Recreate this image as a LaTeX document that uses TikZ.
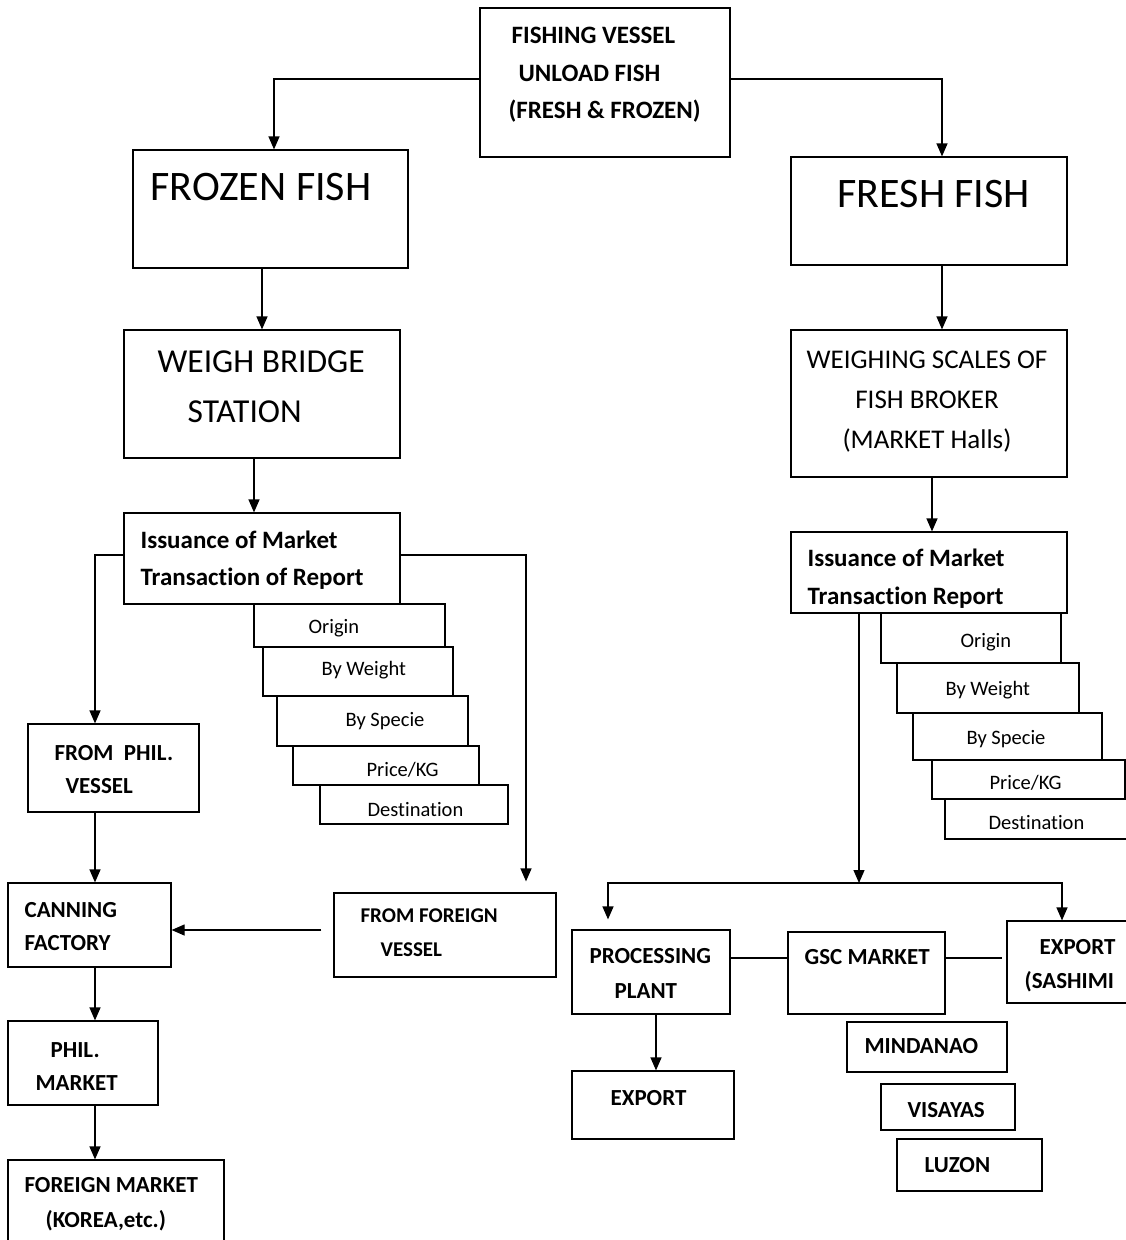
\documentclass[tikz,border=0pt]{standalone}
\usepackage{fontspec}
\setmainfont{Carlito}[Ligatures=NoCommon]
\usetikzlibrary{arrows.meta, positioning, fit}
\tikzset{
  every picture/.style={line width=1.2pt},
  box/.style={draw, fill=white, inner sep=0pt, line width=1.2pt},
  arr/.style={-{Triangle[length=13pt, width=11pt]}, line width=1.2pt},
  txt/.style={inner sep=0pt, anchor=north west, align=left},
  bigtxt/.style={txt, font=\fontsize{42}{50}\selectfont},
  midtxt/.style={txt, font=\fontsize{33.5}{50}\selectfont},
  scaletxt/.style={inner sep=0pt, anchor=north, align=center, font=\fontsize{27}{40}\selectfont},
  boldtxt/.style={txt, font=\fontsize{25}{#1}\selectfont\bfseries},
  boldtxt/.default=34,
  lowtxt/.style={txt, font=\fontsize{23}{#1}\selectfont\bfseries},
  lowtxt/.default=34,
  itemtxt/.style={inner sep=0pt, anchor=base west, font=\fontsize{20.5}{24}\selectfont},
}
\begin{document}
\begin{tikzpicture}[x=1pt, y=-1pt]
  \useasboundingbox (0,0) rectangle (1126,1240);

  % ---- top
  \node[box, fit={(480,8) (730,157)}] (vessel) {};

  % ---- frozen branch
  \node[box, fit={(133,150) (408,268)}] (frozen) {};
  \node[box, fit={(124,330) (400,458)}] (bridge) {};
  \node[box, fit={(124,513) (400,604)}] (reportL) {};
  \node[box, fit={(254,604) (445,647)}] (originL) {};
  \node[box, fit={(263,647) (453,696)}] (weightL) {};
  \node[box, fit={(277,696) (468,746)}] (specieL) {};
  \node[box, fit={(293,746) (479,785)}] (priceL) {};
  \node[box, fit={(320,785) (508,824)}] (destL) {};
  \node[box, fit={(28,724) (199,812)}] (philvessel) {};
  \node[box, fit={(8,883) (171,967)}] (canning) {};
  \node[box, fit={(334,893) (556,977)}] (forvessel) {};
  \node[box, fit={(8,1021) (158,1105)}] (philmarket) {};
  \node[box, fit={(8,1160) (224,1250)}] (formarket) {};

  % ---- fresh branch
  \node[box, fit={(791,157) (1067,265)}] (fresh) {};
  \node[box, fit={(791,330) (1067,477)}] (scales) {};
  \node[box, fit={(791,532) (1067,613)}] (reportR) {};
  \node[box, fit={(881,613) (1061,663)}] (originR) {};
  \node[box, fit={(897,663) (1079,713)}] (weightR) {};
  \node[box, fit={(913,713) (1102,760)}] (specieR) {};
  \node[box, fit={(932,760) (1125,799)}] (priceR) {};
  \node[box, fit={(945,799) (1135,839)}] (destR) {};
  \node[box, fit={(572,930) (730,1014)}] (plant) {};
  \node[box, fit={(788,932) (945,1014)}] (gsc) {};
  \node[box, fit={(1007,921) (1135,1003)}] (sashimi) {};
  \node[box, fit={(572,1071) (734,1139)}] (export) {};
  \node[box, fit={(847,1022) (1007,1072)}] (mindanao) {};
  \node[box, fit={(881,1084) (1015,1130)}] (visayas) {};
  \node[box, fit={(897,1139) (1042,1191)}] (luzon) {};

  % ---- texts
  \node[boldtxt=37.5] (vesselT) at (508,27) {\hspace*{3pt}FISHING VESSEL\\\hspace*{10pt}UNLOAD FISH\\(FRESH \& FROZEN)};
  \node[bigtxt] (frozenT) at (150,173) {FROZEN FISH};
  \node[bigtxt] (freshT) at (837,180) {FRESH FISH};
  \node[midtxt] (bridgeT) at (157,350) {WEIGH BRIDGE\\\hspace*{30pt}STATION};
  \node[scaletxt] (scalesT) at (927,350) {WEIGHING SCALES OF\\FISH BROKER\\(MARKET Halls)};
  \node[boldtxt=37] (reportLT) at (140,530) {Issuance of Market\\Transaction of Report};
  \node[boldtxt=38] (reportRT) at (807,548) {Issuance of Market\\Transaction Report};

  \node[itemtxt] (originLT) at (308,633) {Origin};
  \node[itemtxt] (weightLT) at (321,675) {By Weight};
  \node[itemtxt] (specieLT) at (345,726) {By Specie};
  \node[itemtxt] (priceLT) at (366,776) {Price/KG};
  \node[itemtxt] (destLT) at (367,816) {Destination};
  \node[itemtxt] (originRT) at (960,647) {Origin};
  \node[itemtxt] (weightRT) at (945,695) {By Weight};
  \node[itemtxt] (specieRT) at (966,744) {By Specie};
  \node[itemtxt] (priceRT) at (989,789) {Price/KG};
  \node[itemtxt] (destRT) at (988,829) {Destination};

  \node[lowtxt=33] (philvesselT) at (54,745) {FROM\ \ PHIL.\\\hspace*{11pt}VESSEL};
  \node[lowtxt=33] (canningT) at (24,902) {CANNING\\FACTORY};
  \node[txt, font=\fontsize{21}{34}\selectfont\bfseries] (forvesselT) at (360,908) {FROM FOREIGN\\\hspace*{20pt}VESSEL};
  \node[lowtxt=33] (philmarketT) at (35,1042) {\hspace*{15pt}PHIL.\\MARKET};
  \node[lowtxt=35] (formarketT) at (24,1177) {FOREIGN MARKET\\\hspace*{21pt}(KOREA,etc.)};
  \node[lowtxt=35] (plantT) at (589,948) {PROCESSING\\\hspace*{25pt}PLANT};
  \node[lowtxt] (gscT) at (804,949) {GSC MARKET};
  \node[lowtxt] (sashimiT) at (1024,939) {\hspace*{15pt}EXPORT\\(SASHIMI};
  \node[lowtxt] (exportT) at (610,1090) {EXPORT};
  \node[lowtxt] (mindanaoT) at (864,1038) {MINDANAO};
  \node[lowtxt] (visayasT) at (907,1102) {VISAYAS};
  \node[lowtxt] (luzonT) at (924,1157) {LUZON};

  % ---- connectors
  \coordinate (lspine) at (95,0);
  \coordinate (fspine) at (526,0);
  \coordinate (split) at (859,883);
  \coordinate (lbranch) at (608,883);
  \coordinate (rbranch) at (1062,883);

  \draw[arr] ([yshift=3.5pt]vessel.west) -| ([xshift=3.5pt]frozen.north);
  \draw[arr] ([yshift=3.5pt]vessel.east) -| ([xshift=13pt]fresh.north);

  \draw[arr] (frozen.south -| bridge.north) -- (bridge.north);
  \draw[arr] ([xshift=-8pt]bridge.south) -- ([xshift=-8pt]reportL.north);
  \draw[arr] ([yshift=3.5pt]reportL.west) -| (philvessel.north -| lspine);
  \draw[arr, shorten >=11pt] ([yshift=3.5pt]reportL.east) -| (forvessel.north -| fspine);
  \draw[arr] (philvessel.south -| lspine) -- (canning.north -| lspine);
  \draw[arr, shorten <=12pt] ([yshift=5pt]forvessel.west) -- ([yshift=-5pt]canning.east);
  \draw[arr] (canning.south -| lspine) -- (philmarket.north -| lspine);
  \draw[arr] (philmarket.south -| lspine) -- (formarket.north -| lspine);

  \draw[arr] ([xshift=13pt]fresh.south) -- ([xshift=13pt]scales.north);
  \draw[arr] ([xshift=3pt]scales.south) -- ([xshift=3pt]reportR.north);
  \draw[arr] (reportR.south -| split) -- (split);
  \draw[arr, shorten >=10pt] (split) -| (plant.north -| lbranch);
  \draw[arr] (split) -| (sashimi.north -| rbranch);
  \draw ([yshift=14pt]plant.east) -- ([yshift=15pt]gsc.west);
  \draw[shorten >=4pt] ([yshift=15pt]gsc.east) -- ([yshift=4pt]sashimi.west);
  \draw[arr] ([xshift=5pt]plant.south) -- ([xshift=3pt]export.north);
\end{tikzpicture}
\end{document}
